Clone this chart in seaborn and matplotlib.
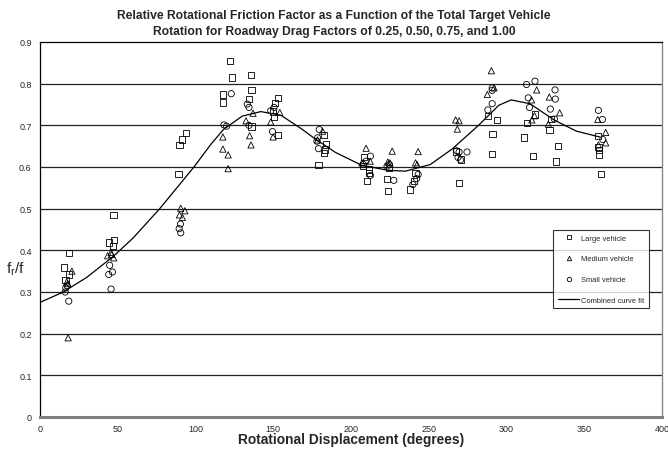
import matplotlib
matplotlib.use("Agg")
import matplotlib.pyplot as plt
import seaborn as sns
import pandas as pd
from matplotlib.lines import Line2D

# ---- data ----
large_x = [18.8, 15.5, 18.5, 16.4, 44.4, 47.8, 47.0, 47.3, 93.8, 91.2, 89.7, 89.0,
           122.1, 123.7, 117.6, 117.6, 135.5, 136.0, 134.4, 136.0,
           153.3, 151.0, 149.9, 150.5, 153.3, 182.8, 183.9, 183.4, 182.8, 179.1,
           208.6, 207.5, 211.8, 211.8, 210.3, 224.3, 223.2, 223.7, 241.5, 240.6, 238.1,
           267.3, 270.5, 269.5, 288.2, 294.0, 291.0, 290.5, 318.5, 313.3, 311.2, 317.2,
           328.6, 327.7, 333.0, 331.6, 358.7, 359.1, 359.6, 359.6, 360.6]
large_y = [0.394, 0.359, 0.342, 0.328, 0.419, 0.424, 0.411, 0.485, 0.682, 0.666, 0.652, 0.583,
           0.855, 0.815, 0.774, 0.755, 0.820, 0.785, 0.763, 0.697,
           0.765, 0.754, 0.733, 0.721, 0.677, 0.677, 0.654, 0.642, 0.634, 0.604,
           0.624, 0.602, 0.594, 0.586, 0.566, 0.598, 0.572, 0.542, 0.586, 0.566, 0.546,
           0.637, 0.618, 0.562, 0.722, 0.713, 0.679, 0.632, 0.726, 0.705, 0.671, 0.627,
           0.716, 0.688, 0.651, 0.613, 0.674, 0.648, 0.640, 0.630, 0.583]

medium_x = [20.5, 17.2, 17.9, 18.1, 43.5, 45.7, 47.4, 46.0, 90.5, 93.1, 89.7, 91.6,
            117.6, 117.6, 121.0, 121.0, 137.0, 132.5, 134.8, 135.7,
            154.2, 148.4, 149.9, 181.7, 178.5, 209.7, 212.3, 207.0,
            226.5, 223.7, 225.0, 243.2, 241.5, 242.5, 267.3, 269.5, 268.4,
            290.3, 287.7, 292.0, 319.4, 316.1, 316.3, 318.0, 327.5, 334.2, 326.9,
            358.7, 363.8, 363.8, 359.1]
medium_y = [0.350, 0.324, 0.320, 0.190, 0.387, 0.395, 0.382, 0.390, 0.501, 0.495, 0.485, 0.479,
            0.672, 0.643, 0.629, 0.596, 0.729, 0.711, 0.675, 0.653,
            0.731, 0.708, 0.672, 0.686, 0.665, 0.645, 0.614, 0.610,
            0.638, 0.612, 0.610, 0.637, 0.610, 0.606, 0.713, 0.711, 0.691,
            0.831, 0.774, 0.790, 0.785, 0.761, 0.713, 0.723, 0.768, 0.730, 0.703,
            0.714, 0.683, 0.658, 0.653]

small_x = [16.6, 16.2, 18.5, 17.5, 44.8, 46.6, 44.2, 45.7, 90.3, 89.5, 90.5,
           123.0, 118.3, 120.0, 133.3, 134.4, 134.4, 150.5, 148.4, 149.5,
           179.6, 178.5, 178.1, 179.1, 212.5, 209.7, 208.0, 212.5,
           224.7, 223.2, 227.5, 243.2, 242.2, 239.8,
           268.0, 269.5, 274.6, 268.8, 270.5, 290.8, 290.8, 290.8, 288.0,
           312.9, 318.3, 314.0, 314.8, 331.2, 331.4, 328.2, 330.8, 359.1, 361.7, 361.9]
small_y = [0.310, 0.300, 0.278, 0.315, 0.364, 0.348, 0.342, 0.307, 0.463, 0.452, 0.442,
           0.776, 0.701, 0.698, 0.751, 0.743, 0.700, 0.743, 0.735, 0.685,
           0.690, 0.670, 0.662, 0.644, 0.626, 0.614, 0.606, 0.580,
           0.606, 0.602, 0.568, 0.582, 0.572, 0.558,
           0.639, 0.636, 0.636, 0.623, 0.617, 0.790, 0.784, 0.752, 0.737,
           0.798, 0.806, 0.766, 0.743, 0.785, 0.763, 0.739, 0.715, 0.736, 0.714, 0.666]

curve_x = [0, 15, 30, 47, 60, 77, 88, 99, 110, 118, 130, 142, 155, 168, 176, 190, 207,
           224, 235, 251, 265, 282, 295, 303, 315, 331, 345, 360]
curve_y = [0.275, 0.300, 0.335, 0.385, 0.430, 0.500, 0.550, 0.600, 0.655, 0.690, 0.722,
           0.733, 0.724, 0.692, 0.670, 0.635, 0.604, 0.592, 0.590, 0.606, 0.643, 0.700,
           0.748, 0.761, 0.752, 0.712, 0.686, 0.672]

series_labels = ["Large vehicle", "Medium vehicle", "Small vehicle"]
curve_label = "Combined curve fit"
x_ticks = [0, 50, 100, 150, 200, 250, 300, 350, 400]
y_ticks = [0, 0.1, 0.2, 0.3, 0.4, 0.5, 0.6, 0.7, 0.8, 0.9]

df = pd.concat([
    pd.DataFrame({"x": large_x, "y": large_y, "type": series_labels[0]}),
    pd.DataFrame({"x": medium_x, "y": medium_y, "type": series_labels[1]}),
    pd.DataFrame({"x": small_x, "y": small_y, "type": series_labels[2]}),
], ignore_index=True)
curve = pd.DataFrame({"x": curve_x, "y": curve_y})

# ---- style ----
sns.set_style("white")
plt.rcParams["font.family"] = ["Liberation Sans", "DejaVu Sans"]

fig = plt.figure(figsize=(6.68, 4.52), dpi=100)
ax = fig.add_axes([40 / 668, 1 - 418 / 452, 622 / 668, 375 / 452])

markers = {series_labels[0]: "s", series_labels[1]: "^", series_labels[2]: "o"}
for lab in series_labels:
    sub = df[df["type"] == lab]
    sns.scatterplot(data=sub, x="x", y="y", marker=markers[lab], s=20,
                    facecolor="none", edgecolor="black", linewidth=0.6,
                    ax=ax, legend=False, zorder=3)
sns.lineplot(data=curve, x="x", y="y", color="black", linewidth=0.9, ax=ax,
             legend=False, zorder=4, sort=True)

ax.set_xlim(0, 400)
ax.set_ylim(0, 0.9)
ax.set_xticks(x_ticks)
ax.set_xticklabels([str(t) for t in x_ticks])
ax.set_yticks(y_ticks)
ax.set_yticklabels(["0" if t == 0 else f"{t:g}" for t in y_ticks])
ax.tick_params(axis="both", labelsize=6.5, length=3, width=0.8, color="black")
ax.tick_params(axis="x", direction="inout", length=4, pad=3)
ax.tick_params(axis="y", direction="out", pad=3)
for t in y_ticks[1:-1]:
    ax.axhline(t, color="#222222", linewidth=0.9, zorder=1)

ax.spines["left"].set_color("black")
ax.spines["left"].set_linewidth(0.9)
ax.spines["top"].set_color("black")
ax.spines["top"].set_linewidth(0.9)
ax.spines["right"].set_color("#888888")
ax.spines["right"].set_linewidth(1.0)
ax.spines["bottom"].set_color("#808080")
ax.spines["bottom"].set_linewidth(2.2)

ax.set_xlabel("Rotational Displacement (degrees)", fontsize=9.9, fontweight="bold", labelpad=-1)
ax.set_ylabel("")
fig.text(6 / 668, 1 - 269 / 452, r"$\mathregular{f_r/f}$", fontsize=11, ha="left", va="center")

fig.suptitle("Relative Rotational Friction Factor as a Function of the Total Target Vehicle\n"
             "Rotation for Roadway Drag Factors of 0.25, 0.50, 0.75, and 1.00",
             fontsize=8.7, fontweight="bold", x=0.5, y=1 - 10 / 452, va="top", linespacing=1.45)

handles = [
    Line2D([], [], linestyle="none", marker="s", markersize=3.2, markerfacecolor="none",
           markeredgecolor="black", markeredgewidth=0.6),
    Line2D([], [], linestyle="none", marker="^", markersize=3.2, markerfacecolor="none",
           markeredgecolor="black", markeredgewidth=0.6),
    Line2D([], [], linestyle="none", marker="o", markersize=3.2, markerfacecolor="none",
           markeredgecolor="black", markeredgewidth=0.6),
    Line2D([], [], color="black", linewidth=0.9),
]
leg = ax.legend(handles, series_labels + [curve_label], loc="upper left",
                bbox_to_anchor=(0.825, 0.499), fontsize=5.4, frameon=True, fancybox=False,
                handlelength=2.9, handletextpad=0.25, labelspacing=1.8, borderpad=0.6,
                borderaxespad=0)
leg.get_frame().set_edgecolor("black")
leg.get_frame().set_linewidth(0.8)
leg.set_zorder(5)

fig.savefig("out.png", dpi=100)
